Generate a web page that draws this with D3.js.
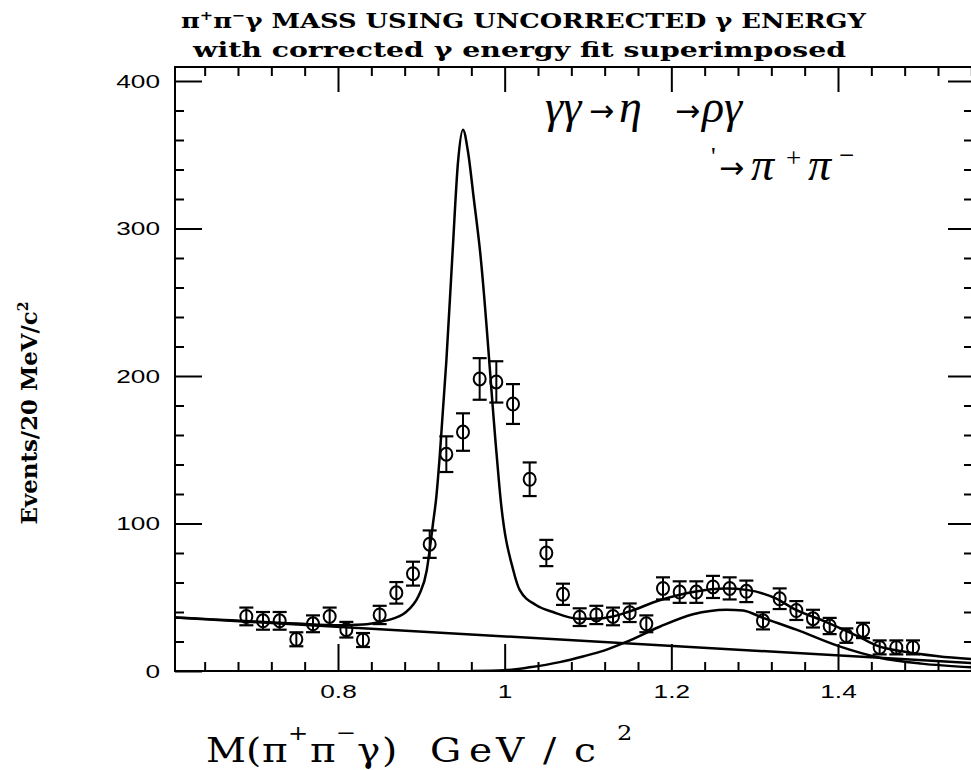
<!DOCTYPE html>
<html>
<head>
<meta charset="utf-8">
<script src="https://cdn.jsdelivr.net/npm/d3@7"></script>
<style>
body{margin:0;background:#fff;}
svg{display:block;}
</style>
</head>
<body>
<svg id="chart" width="971" height="770"></svg>
<script>
// measured points: bin centres (GeV) and events per 20 MeV
var massBins = [0.69,0.71,0.73,0.75,0.77,0.79,0.81,0.83,0.85,0.87,0.89,0.91,0.93,0.95,0.97,0.99,1.01,1.03,1.05,1.07,
                1.09,1.11,1.13,1.15,1.17,1.19,1.21,1.23,1.25,1.27,1.29,1.31,1.33,1.35,1.37,1.39,1.41,1.43,1.45,1.47,1.49];
var events = [37,34,34,21.5,32,37,28,21,38,53,66,86,147,162,198,196,181,130,80,52,
              36.5,38,37,39.5,32,56,53.5,53.5,57,56,54,34,49,41,35.5,30.5,24,27.5,16,16,16];
var eventErrors = [6,6,6,4.6,5.7,6,5.3,4.6,6.2,7.3,8.1,9.3,12.1,12.7,14.1,14,13.5,11.4,8.9,7.2,
                   6,6.2,6,6.3,5.7,7.5,7.3,7.3,7.5,7.5,7.3,5.8,7,6.4,6,5.5,4.9,5.2,4,4,4];

// fit curves
var totalFitMass = [0.6044,0.65,0.70,0.75,0.80,0.83,0.85,0.866,0.878,0.886,0.894,0.898,0.9064,0.910,0.914,0.918,0.922,
                    0.930,0.9376,0.944,0.950,0.956,0.963,0.9704,0.9903,0.9952,1.0105,1.018,1.038,1.058,1.088,1.106,1.13,1.148,
                    1.186,1.226,1.266,1.29,1.326,1.346,1.386,1.426,1.446,1.48,1.52,1.5624];
var totalFitValue = [36.3,35,33.5,32.2,31,31.5,33.2,35.5,38.5,42.3,48,52.5,68,82,100,118,145,
                     210,285,345,367,352,320,285,147,116,68,55,44.6,40,35.5,35.5,37,40,
                     48,53.6,55.9,55,49,42.5,33.2,23,17.4,13,10,8];
var bumpFitMass = [0.96,1.0,1.03,1.066,1.095,1.12,1.146,1.186,1.226,1.266,1.286,1.31,1.35,1.40,1.45,1.50,1.5624];
var bumpFitValue = [0,0.5,2.5,6,10,14,19.7,30,38.5,41.6,41,36,28,17,9,5,2.5];
var backgroundMass = [0.6044,1.5624];
var backgroundValue = [36.2,5.3];

var xMajorTicks = [0.8,1.0,1.2,1.4];
var yMajorTicks = [0,100,200,300,400];

var svg = d3.select("#chart");
var frameL = 175, frameR = 973, frameT = 67, frameB = 671;

var x = d3.scaleLinear().domain([0.8,1.4]).range([338,838]);
var y = d3.scaleLinear().domain([0,400]).range([frameB,81]);

var xMinorTicks = d3.range(0.64,1.57,0.04).filter(function(v){
	return xMajorTicks.every(function(m){return Math.abs(m-v)>0.001;});
});
var yMinorTicks = d3.range(20,410,20).filter(function(v){return v%100 != 0;});

svg.append("defs").append("clipPath").attr("id","plotClip")
	.append("rect").attr("x",frameL).attr("y",frameT).attr("width",frameR-frameL).attr("height",frameB-frameT);

// frame
svg.append("rect")
	.attr("x",frameL).attr("y",frameT)
	.attr("width",frameR-frameL).attr("height",frameB-frameT)
	.attr("fill","none").attr("stroke","#000").attr("stroke-width",2);

function addAxis(axis, tx, ty){
	var g = svg.append("g").attr("transform","translate("+tx+","+ty+")").call(axis);
	g.select(".domain").remove();
	g.selectAll(".tick line").attr("stroke","#000").attr("stroke-width",2);
	return g;
}

var bottomAxis = addAxis(d3.axisBottom(x).tickValues(xMajorTicks).tickSize(-27).tickPadding(13.5)
	.tickFormat(function(d){return d == 1 ? "1" : d3.format(".1f")(d);}), 0, frameB);
addAxis(d3.axisBottom(x).tickValues(xMinorTicks).tickSize(-9).tickFormat(""), 0, frameB);
addAxis(d3.axisTop(x).tickValues(xMajorTicks).tickSize(-25).tickFormat(""), 0, frameT);
addAxis(d3.axisTop(x).tickValues(xMinorTicks).tickSize(-9).tickFormat(""), 0, frameT);

var leftAxis = addAxis(d3.axisLeft(y).tickValues(yMajorTicks).tickSize(-27).tickPadding(15), frameL, 0);
addAxis(d3.axisLeft(y).tickValues(yMinorTicks).tickSize(-9).tickFormat(""), frameL, 0);
addAxis(d3.axisRight(y).tickValues(yMajorTicks.slice(1)).tickSize(-25).tickFormat(""), frameR, 0);
addAxis(d3.axisRight(y).tickValues(yMinorTicks).tickSize(-9).tickFormat(""), frameR, 0);

[bottomAxis, leftAxis].forEach(function(g){
	g.selectAll(".tick text")
		.attr("fill","#000")
		.style("font-family","'Liberation Sans', Arial, sans-serif")
		.style("font-size","19px")
		.each(function(){
			var w = this.getComputedTextLength();
			d3.select(this).attr("textLength", w*1.38).attr("lengthAdjust","spacingAndGlyphs");
		});
});

// curves
var plot = svg.append("g").attr("clip-path","url(#plotClip)");
var line = d3.line().x(function(d){return x(d[0]);}).y(function(d){return y(d[1]);}).curve(d3.curveMonotoneX);

function addCurve(ms, vs){
	plot.append("path")
		.datum(ms.map(function(m,i){return [m, vs[i]];}))
		.attr("d", line)
		.attr("fill","none").attr("stroke","#000").attr("stroke-width",2.5);
}
addCurve(backgroundMass, backgroundValue);
addCurve(bumpFitMass, bumpFitValue);
addCurve(totalFitMass, totalFitValue);

// data points with error bars
var r = 6;
function barTop(d){return Math.min(y(d.v+d.e), y(d.v)-r-1);}
function barBottom(d){return Math.max(y(d.v-d.e), y(d.v)+r+1);}
var pts = plot.selectAll(".pt").data(massBins.map(function(m,i){
	return {m:m, v:events[i], e:eventErrors[i]};
})).enter().append("g").attr("class","pt");

pts.append("line")
	.attr("x1",function(d){return x(d.m);}).attr("x2",function(d){return x(d.m);})
	.attr("y1",barTop).attr("y2",barBottom)
	.attr("stroke","#000").attr("stroke-width",2);
[barTop, barBottom].forEach(function(f){
	pts.append("line")
		.attr("x1",function(d){return x(d.m)-7;}).attr("x2",function(d){return x(d.m)+7;})
		.attr("y1",f).attr("y2",f)
		.attr("stroke","#000").attr("stroke-width",2.2);
});
pts.append("ellipse")
	.attr("cx",function(d){return x(d.m);}).attr("cy",function(d){return y(d.v);})
	.attr("rx",r).attr("ry",r+0.5)
	.attr("fill","none").attr("stroke","#000").attr("stroke-width",2);

// title
var titleFont = "'DejaVu Serif', 'Liberation Serif', serif";
var t1 = svg.append("text").attr("x",181).attr("y",28)
	.attr("textLength",685).attr("lengthAdjust","spacingAndGlyphs")
	.style("font-family",titleFont).style("font-weight","bold").style("font-size","21px");
t1.append("tspan").text("π");
t1.append("tspan").attr("dy",-8).style("font-size","13px").text("+");
t1.append("tspan").attr("dy",8).text("π");
t1.append("tspan").attr("dy",-8).style("font-size","13px").text("−");
t1.append("tspan").attr("dy",8).text("γ MASS USING UNCORRECTED γ ENERGY");

svg.append("text").attr("x",193).attr("y",57)
	.attr("textLength",653).attr("lengthAdjust","spacingAndGlyphs")
	.style("font-family",titleFont).style("font-weight","bold").style("font-size","21px")
	.text("with corrected γ energy fit superimposed");

// y axis title
var yt = svg.append("text").attr("transform","translate(37,413) rotate(-90)")
	.attr("text-anchor","middle")
	.attr("textLength",223).attr("lengthAdjust","spacingAndGlyphs")
	.style("font-family",titleFont).style("font-weight","bold").style("font-size","23px");
yt.append("tspan").text("Events/20 MeV/c");
yt.append("tspan").attr("dy",-9).style("font-size","14px").text("2");

// x axis title, glyphs placed one by one like the wide typeset original
var stretch = 1.15;
var xt = svg.append("text").attr("transform","scale("+stretch+",1)")
	.style("font-family","'DejaVu Serif', 'Liberation Serif', serif").style("font-size","34px");
var xTitleParts = [
	{s:"M", x:206, sup:false}, {s:"(", x:246, sup:false}, {s:"π", x:262, sup:false},
	{s:"+", x:288, sup:true},  {s:"π", x:310, sup:false}, {s:"−", x:336, sup:true},
	{s:"γ", x:357, sup:false}, {s:")", x:382, sup:false},
	{s:"G", x:430, sup:false}, {s:"e", x:469, sup:false}, {s:"V", x:496, sup:false},
	{s:"/", x:543, sup:false}, {s:"c", x:574, sup:false}, {s:"2", x:617, sup:true}
];
xTitleParts.forEach(function(p){
	xt.append("tspan").attr("x",p.x/stretch).attr("y", p.sup ? 740 : 762)
		.style("font-size", p.sup ? "21px" : null)
		.text(p.s);
});

// reaction annotation
var annFont = "'Liberation Serif', 'Times New Roman', serif";
function ann(tx, ty, s, size, italic, fam){
	svg.append("text").attr("x",tx).attr("y",ty)
		.style("font-family",fam || annFont).style("font-size",size+"px")
		.style("font-style", italic ? "italic" : "normal")
		.text(s);
}
var arrowFont = "'DejaVu Sans', sans-serif";
ann(545,122,"γγ",46,true);
ann(589,121,"→",30,false,arrowFont);
ann(619,122,"η",46,true);
ann(675,121,"→",30,false,arrowFont);
ann(702,122,"ργ",46,true);
ann(711,165,"'",26,false);
ann(719,178,"→",30,false,arrowFont);
ann(751,180,"π",46,true);
ann(786,167,"+",27,false);
ann(808,180,"π",46,true);
ann(839,164,"−",27,false);
</script>
</body>
</html>
